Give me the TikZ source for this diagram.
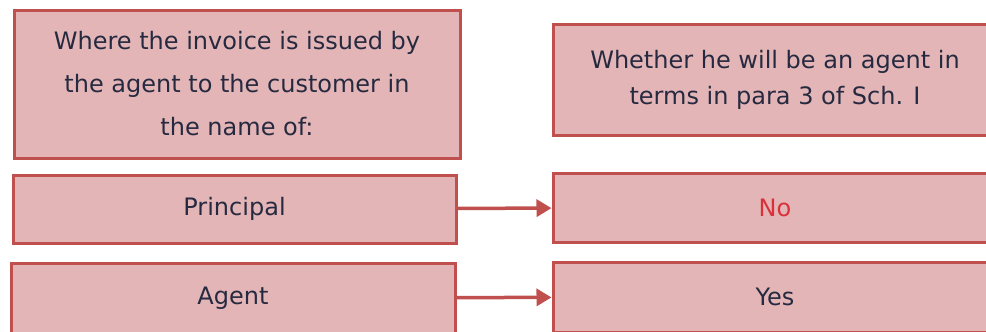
\documentclass[tikz,border=0pt]{standalone}
\usepackage{tikz, xcolor, fontspec}
\setmainfont{DejaVu Sans}
\usetikzlibrary{shapes,arrows.meta}
\definecolor{boxfill}{HTML}{E4B5B6}
\definecolor{boxline}{HTML}{C0504D}
\definecolor{boxtext}{HTML}{262A40}
\definecolor{notext}{HTML}{D9313A}

\begin{document}
\begin{tikzpicture}[x=1pt, y=-1pt]
\tikzstyle{vertexr}=[rectangle, draw=boxline, fill=boxfill, line width=3pt, text=boxtext, align=center, inner sep=0pt]
\tikzstyle{drawstyle}=[draw=boxline, line width=3.5pt, -{Triangle[length=15pt, width=17pt]}]
\useasboundingbox (0,0) rectangle (986,332);

\node[vertexr, minimum width=446pt, minimum height=148pt, font=\fontsize{24}{43}\selectfont] (B0x0) at (237,84) {Where the invoice is issued by\\the agent to the customer in\\the name of:};
\node[vertexr, minimum width=444pt, minimum height=111pt, font=\fontsize{24}{36}\selectfont] (B1x0) at (775,80) {Whether he will be an agent in\\terms in para 3 of Sch. I};
\node[vertexr, minimum width=443pt, minimum height=68pt, font=\fontsize{24}{30}\selectfont] (B0x1) at (234.5,209) {Principal};
\node[vertexr, minimum width=444pt, minimum height=69pt, font=\fontsize{24}{30}\selectfont, text=notext] (B1x1) at (775,207.5) {No};
\draw[drawstyle] (B0x1) -- (B1x1);
\node[vertexr, minimum width=444pt, minimum height=70pt, font=\fontsize{24}{30}\selectfont] (B0x2) at (233,298) {Agent};
\node[vertexr, minimum width=444pt, minimum height=70pt, font=\fontsize{24}{30}\selectfont] (B1x2) at (775,297) {Yes};
\draw[drawstyle] (B0x2) -- (B1x2);
\end{tikzpicture}
\end{document}
